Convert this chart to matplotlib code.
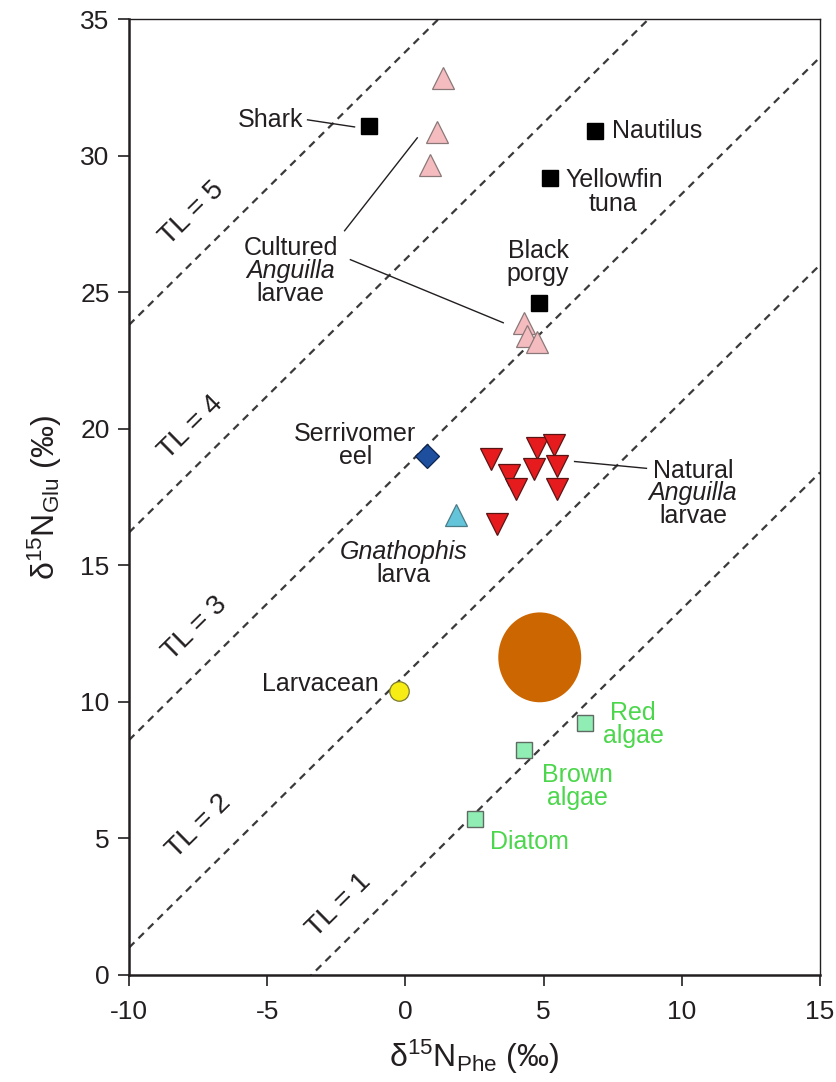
import numpy as np
import matplotlib
matplotlib.use('Agg')
import matplotlib.pyplot as plt
from matplotlib.patches import Ellipse

plt.rcParams['font.family'] = ['Liberation Sans', 'DejaVu Sans']
plt.rcParams['mathtext.fontset'] = 'custom'
plt.rcParams['mathtext.rm'] = 'Liberation Sans'
plt.rcParams['mathtext.it'] = 'Liberation Sans:italic'
plt.rcParams['axes.unicode_minus'] = False

# d15N Phe (x) / d15N Glu (y) values
top_x = [-1.30, 6.86, 5.24, 4.84]          # shark, nautilus, yellowfin tuna, black porgy
top_y = [31.09, 30.91, 29.19, 24.62]
cult_x = [1.37, 1.16, 0.90, 4.30, 4.41, 4.77]
cult_y = [32.85, 30.87, 29.66, 23.88, 23.41, 23.19]
nat_x = [3.11, 4.77, 5.38, 3.76, 4.66, 5.49, 4.01, 5.49, 3.32]
nat_y = [18.91, 19.31, 19.39, 18.29, 18.54, 18.62, 17.81, 17.81, 16.53]
eel_x, eel_y = [0.79], [19.02]
gna_x, gna_y = [1.84], [16.83]
larv_x, larv_y = [-0.22], [10.39]
algae_x = [6.50, 4.30, 2.53]               # red, brown, diatom
algae_y = [9.22, 8.23, 5.71]
blob_xy = (4.86, 11.63)
blob_w, blob_h = 3.0, 3.29

# trophic level lines: Glu = Phe + 3.4 + 7.6*(TL-1)
tl_levels = [1, 2, 3, 4, 5]
tl_text_x = [-2.40, -7.45, -7.60, -7.75, -7.70]
tl_text_y = [2.55, 5.45, 12.70, 20.05, 27.90]

TXT = '#231f20'
GRN = '#4cd64c'
FS = 18

fig = plt.figure(figsize=(8.36, 10.82), dpi=100)
ax = fig.add_axes([0.1543, 0.0989, 0.8266, 0.8835])
ax.set_xlim(-10, 15)
ax.set_ylim(0, 35)

xx = np.array([-10, 15])
for tl in tl_levels:
    ax.plot(xx, xx + 3.4 + 7.6 * (tl - 1), color='#3a3a3a', lw=1.6,
            dashes=(3.4, 2.6), zorder=1)
for tl, tx, ty in zip(tl_levels, tl_text_x, tl_text_y):
    ax.text(tx, ty, 'TL = %d' % tl, rotation=44.6, rotation_mode='anchor',
            ha='center', va='center', fontsize=20, color=TXT)

ax.add_patch(Ellipse(blob_xy, blob_w, blob_h, color='#cc6600', lw=0, zorder=2))

ax.plot(top_x, top_y, 's', ms=11, color='black', zorder=4)
ax.plot(cult_x, cult_y, '^', ms=16, mfc='#f5bcc0', mec='#8a7878', mew=0.9, ls='none', zorder=4)
ax.plot(nat_x, nat_y, 'v', ms=16, mfc='#e51b1e', mec='#5a1414', mew=0.9, ls='none', zorder=4)
ax.plot(eel_x, eel_y, 'D', ms=12.5, mfc='#1e4e9e', mec='#0c2550', mew=0.9, ls='none', zorder=4)
ax.plot(gna_x, gna_y, '^', ms=16, mfc='#64c4d9', mec='#4a7c88', mew=0.9, ls='none', zorder=4)
ax.plot(larv_x, larv_y, 'o', ms=14, mfc='#f7ec13', mec='#7a7a30', mew=0.9, ls='none', zorder=4)
ax.plot(algae_x, algae_y, 's', ms=11.5, mfc='#90eeb4', mec='#5e6a62', mew=1.0, ls='none', zorder=4)


def label(x, y, lines, color=TXT, step=0.84, ha='center'):
    for i, (s, st) in enumerate(lines):
        ax.text(x, y - i * step, s, ha=ha, va='center', fontsize=FS,
                color=color, style=st, zorder=5)


N = 'normal'
I = 'italic'
label(-3.68, 31.31, [('Shark', N)], ha='right')
ax.plot([-3.54, -1.84], [31.31, 31.05], color=TXT, lw=1)
label(-4.15, 26.63, [('Cultured', N), ('Anguilla', I), ('larvae', N)])
ax.plot([-2.2, 0.43], [27.25, 30.65], color=TXT, lw=1)
ax.plot([-1.99, 3.54], [26.19, 23.88], color=TXT, lw=1)
label(7.48, 30.91, [('Nautilus', N)], ha='left')
label(5.78, 29.10, [('Yellowfin', N)], ha='left')
label(7.51, 28.24, [('tuna', N)])
label(4.80, 26.52, [('Black', N), ('porgy', N)])
label(-1.81, 19.80, [('Serrivomer', N), ('eel', N)])
label(-0.07, 15.47, [('Gnathophis', I), ('larva', N)])
label(10.4, 18.47, [('Natural', N), ('Anguilla', I), ('larvae', N)])
ax.plot([6.12, 8.72], [18.8, 18.55], color=TXT, lw=1)
label(-0.98, 10.64, [('Larvacean', N)], ha='right')
label(8.24, 9.58, [('Red', N), ('algae', N)], color=GRN)
label(6.21, 7.32, [('Brown', N), ('algae', N)], color=GRN)
label(4.48, 4.86, [('Diatom', N)], color=GRN)

ax.set_xticks([-10, -5, 0, 5, 10, 15])
ax.set_yticks([0, 5, 10, 15, 20, 25, 30, 35])
ax.tick_params(direction='out', length=8, width=1.2, labelsize=19,
               colors=TXT, pad=6)
ax.tick_params(axis='x', pad=10)
for side in ['left', 'bottom']:
    ax.spines[side].set_linewidth(1.8)
for side in ['top', 'right']:
    ax.spines[side].set_linewidth(1.0)
for sp in ax.spines.values():
    sp.set_color('#231f20')

ax.set_xlabel('δ$^{15}$N$_{\\mathrm{Phe}}$ (‰)', fontsize=23, color=TXT, labelpad=10)
ax.set_ylabel('δ$^{15}$N$_{\\mathrm{Glu}}$ (‰)', fontsize=23, color=TXT, labelpad=12)

fig.savefig('out.png', dpi=100)
